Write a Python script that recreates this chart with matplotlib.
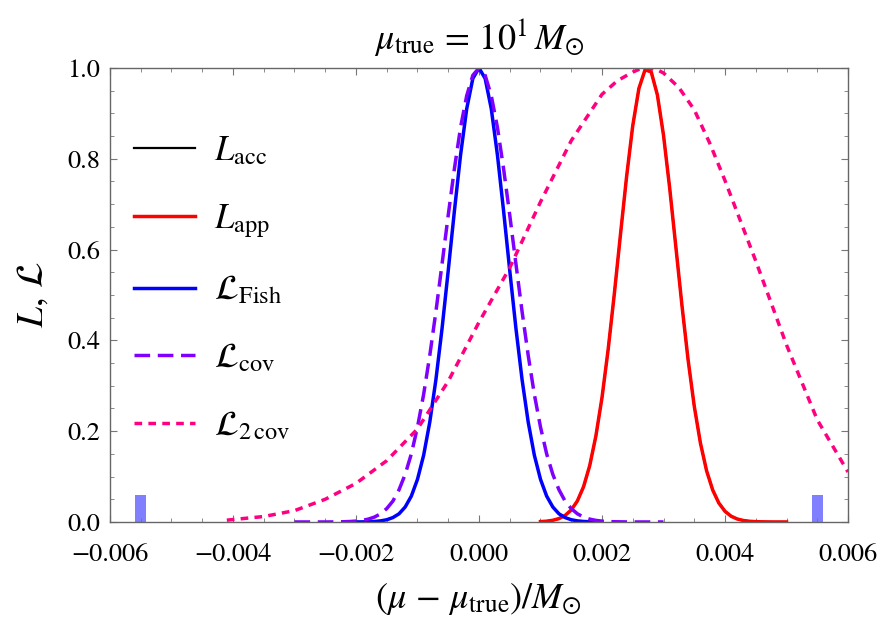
import numpy as np
import matplotlib
matplotlib.use("Agg")
import matplotlib.pyplot as plt
from matplotlib.ticker import MultipleLocator, FuncFormatter

plt.rcParams['font.family'] = 'STIXGeneral'
plt.rcParams['mathtext.fontset'] = 'stix'

# L_Fish, sampled every 1e-4 from -0.002 to 0.002
fish_x = np.linspace(-0.002, 0.002, 41)
fish_half = [0.0001, 0.0002, 0.0005, 0.0011, 0.0024, 0.0049, 0.0097, 0.018, 0.033, 0.057,
             0.094, 0.147, 0.220, 0.314, 0.427, 0.554, 0.685, 0.808, 0.910, 0.977]
fish_y = fish_half + [1.0] + fish_half[::-1]

# L_cov, sampled every 1e-4 from -0.003 to 0.003
cov_x = np.linspace(-0.003, 0.003, 61)
cov_half = [0.0, 0.0, 0.0, 0.0, 0.0, 0.0, 0.0001, 0.0003, 0.0005, 0.0010,
            0.0019, 0.0035, 0.0063, 0.0108, 0.018, 0.0295, 0.046, 0.071, 0.105, 0.150,
            0.209, 0.281, 0.367, 0.464, 0.569, 0.676, 0.778, 0.869, 0.939, 0.984]
cov_y = cov_half + [1.0] + cov_half[::-1]

# L_app (L_acc lies underneath it), sampled every 1e-4 from 0.001 to 0.005
app_x = np.linspace(0.001, 0.005, 41)
app_y = [0.0008, 0.0017, 0.0037, 0.0074, 0.0144, 0.0264, 0.0464, 0.0776, 0.124, 0.189,
         0.274, 0.380, 0.502, 0.633, 0.761, 0.873, 0.955, 0.996, 0.9915, 0.941,
         0.852, 0.736, 0.607, 0.477, 0.357, 0.255, 0.174, 0.113, 0.0703, 0.0416,
         0.0235, 0.0126, 0.0065, 0.0032, 0.0015, 0.0007, 0.0003, 0.0001, 0.0, 0.0, 0.0]
acc_x = app_x
acc_y = app_y

# L_2cov
cov2_x = [-0.0041, -0.0035, -0.003, -0.0025, -0.002, -0.0015, -0.001, -0.0005, 0.0, 0.0005,
          0.001, 0.0015, 0.002, 0.00225, 0.0025, 0.0026, 0.00275, 0.0029, 0.003, 0.00325,
          0.0035, 0.00375, 0.004, 0.0045, 0.005, 0.0055, 0.006]
cov2_y = [0.004, 0.012, 0.025, 0.05, 0.085, 0.135, 0.205, 0.31, 0.44, 0.56,
          0.705, 0.84, 0.942, 0.972, 0.991, 0.997, 1.0, 0.996, 0.989, 0.957,
          0.908, 0.835, 0.752, 0.575, 0.39, 0.225, 0.11]

# markers at the edges
bar_x = [-0.0055, 0.0055]
bar_h = [0.06, 0.06]

fig = plt.figure(figsize=(8.89, 6.35), dpi=100)
ax = fig.add_axes([0.1237, 0.178, 0.8302, 0.7149])

ax.bar(bar_x, bar_h, width=0.00018, color='#8080ff', zorder=1)
ax.plot(acc_x, acc_y, color='black', lw=1.6, label=r'$L_{\rm acc}$')
ax.plot(app_x, app_y, color='red', lw=2.5, label=r'$L_{\rm app}$')
ax.plot(fish_x, fish_y, color='blue', lw=2.5, label=r'$\mathcal{L}_{\rm Fish}$')
ax.plot(cov_x, cov_y, color='#7f00ff', lw=2.5, dashes=(4.5, 2.2), label=r'$\mathcal{L}_{\rm cov}$')
ax.plot(cov2_x, cov2_y, color='#ff0080', lw=2.5, dashes=(2.2, 1.8), label=r'$\mathcal{L}_{2\,\rm cov}$')

ax.set_xlim(-0.006, 0.006)
ax.set_ylim(0, 1.0)
ax.xaxis.set_major_locator(MultipleLocator(0.002))
ax.xaxis.set_minor_locator(MultipleLocator(0.0005))
ax.yaxis.set_major_locator(MultipleLocator(0.2))
ax.yaxis.set_minor_locator(MultipleLocator(0.05))

def xfmt(v, pos):
    s = "%.3f" % v
    if s == "-0.000":
        s = "0.000"
    return s.replace('-', '\u2212')

ax.xaxis.set_major_formatter(FuncFormatter(xfmt))
ax.yaxis.set_major_formatter(FuncFormatter(lambda v, pos: "%.1f" % v))
ax.tick_params(which='both', direction='in', top=True, right=True, color='#777777',
               labelsize=19)
ax.tick_params(which='major', length=5, width=0.8)
ax.tick_params(which='minor', length=3, width=0.6)
ax.tick_params(axis='x', which='major', pad=15)
ax.tick_params(axis='y', which='major', pad=7)
for sp in ax.spines.values():
    sp.set_color('#666666')
    sp.set_linewidth(1.0)

ax.set_xlabel(r'$(\mu\,-\,\mu_{\rm true})/M_{\odot}$', fontsize=26, labelpad=10)
ax.set_ylabel(r'$L,\,\mathcal{L}$', fontsize=27, labelpad=12)
ax.set_title(r'$\mu_{\rm true}\,=\,10^{1}\,M_{\odot}$', fontsize=26, pad=14)

ax.legend(loc='upper left', bbox_to_anchor=(0.0, 0.905), frameon=False, fontsize=25,
          handlelength=1.75, handletextpad=0.55, labelspacing=1.0, borderaxespad=0.3)

fig.savefig('out.png', dpi=100)
